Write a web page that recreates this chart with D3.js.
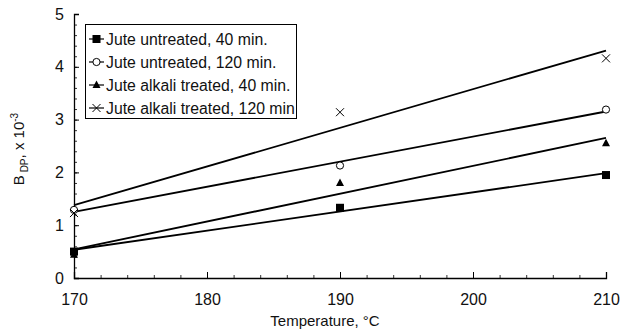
<!DOCTYPE html>
<html>
<head>
<meta charset="utf-8">
<script src="https://cdn.jsdelivr.net/npm/d3@7"></script>
<style>
  body { margin: 0; background: #fff; }
  text { font-family: "Liberation Sans", Arial, sans-serif; fill: #111; }
</style>
</head>
<body>
<svg id="plot" width="622" height="330"></svg>
<script>
// data
const temps = [170, 190, 210];
const untreated40 = [0.50, 1.33, 1.95];
const untreated120 = [1.29, 2.13, 3.19];
const alkali40 = [0.44, 1.80, 2.55];
const alkali120 = [1.23, 3.14, 4.16];
const seriesNames = ['Jute untreated, 40 min.', 'Jute untreated, 120 min.', 'Jute alkali treated, 40 min.', 'Jute alkali treated, 120 min'];
const markerTypes = ['square', 'circle', 'triangle', 'cross'];
const xTicks = [170, 180, 190, 200, 210];
const yTicks = [0, 1, 2, 3, 4, 5];

const allSeries = [untreated40, untreated120, alkali40, alkali120];

let svg = d3.select('#plot');
const x = d3.scaleLinear().domain([170, 210]).range([74, 606]);
const y = d3.scaleLinear().domain([0, 5]).range([278, 14]);

// minor ticks
const xAxis = d3.axisBottom(x).tickValues(d3.range(170, 211, 2)).tickSize(-3).tickFormat('');
svg.append('g').attr('transform', 'translate(0,278)').call(xAxis)
  .call(g => g.selectAll('.tick line').attr('stroke', '#333'));
svg.append('g').attr('transform', 'translate(0,278)')
  .call(d3.axisBottom(x).tickValues(xTicks).tickSize(-6).tickPadding(16).tickFormat(d3.format('d')))
  .call(g => g.select('.domain').attr('stroke', '#000').attr('stroke-width', 1.3))
  .call(g => g.selectAll('text').attr('font-size', 16).attr('font-family', '"Liberation Sans", Arial, sans-serif').attr('fill', '#111'));

svg.append('g').attr('transform', 'translate(74,0)')
  .call(d3.axisLeft(y).tickValues(d3.range(0, 5.01, 0.2)).tickSize(-3).tickFormat(''))
  .call(g => g.selectAll('.tick line').attr('stroke', '#333'));
svg.append('g').attr('transform', 'translate(74,0)')
  .call(d3.axisLeft(y).tickValues(yTicks).tickSize(-5).tickPadding(10).tickFormat(d3.format('d')))
  .call(g => g.select('.domain').attr('stroke', '#000').attr('stroke-width', 1.3))
  .call(g => g.selectAll('text').attr('font-size', 16).attr('font-family', '"Liberation Sans", Arial, sans-serif').attr('fill', '#111'));

// least squares trendlines
const fit = vals => {
  const mx = d3.mean(temps), my = d3.mean(vals);
  const b = d3.sum(temps, (t, i) => (t - mx) * (vals[i] - my)) / d3.sum(temps, t => (t - mx) ** 2);
  return t => my + b * (t - mx);
};
allSeries.forEach(vals => {
  const f = fit(vals);
  svg.append('line')
    .attr('x1', x(170)).attr('y1', y(f(170)))
    .attr('x2', x(210)).attr('y2', y(f(210)))
    .attr('stroke', '#000').attr('stroke-width', 1.8);
});

const drawMarker = (g, type, cx, cy) => {
  if (type === 'square') {
    g.append('rect').attr('x', cx - 4).attr('y', cy - 4).attr('width', 8).attr('height', 8).attr('fill', '#000');
  } else if (type === 'circle') {
    g.append('circle').attr('cx', cx).attr('cy', cy).attr('r', 3.6).attr('fill', '#fff').attr('stroke', '#000').attr('stroke-width', 1);
  } else if (type === 'triangle') {
    g.append('path').attr('d', `M${cx},${cy - 4.5}L${cx + 4},${cy + 3}L${cx - 4},${cy + 3}Z`).attr('fill', '#000');
  } else {
    g.append('path').attr('d', `M${cx - 4},${cy - 4}L${cx + 4},${cy + 4}M${cx - 4},${cy + 4}L${cx + 4},${cy - 4}`)
      .attr('stroke', '#000').attr('stroke-width', 1);
  }
};

let marks = svg.append('g');
allSeries.forEach((vals, i) => {
  vals.forEach((v, j) => drawMarker(marks, markerTypes[i], x(temps[j]), y(v)));
});

// legend
let legend = svg.append('g');
legend.append('rect').attr('x', 85.5).attr('y', 24.5).attr('width', 211).attr('height', 94)
  .attr('fill', '#fff').attr('stroke', '#000').attr('stroke-width', 1);
seriesNames.forEach((name, i) => {
  const ly = 39 + i * 23;
  legend.append('line').attr('x1', 89).attr('x2', 104).attr('y1', ly).attr('y2', ly).attr('stroke', '#000').attr('stroke-width', 1.2);
  drawMarker(legend, markerTypes[i], 96.5, ly);
  legend.append('text').attr('x', 106).attr('y', ly + 5.5).attr('font-size', 15.8).text(name);
});

// axis titles
svg.append('text').attr('x', 325).attr('y', 326).attr('text-anchor', 'middle').attr('font-size', 15).text('Temperature, °C');
const yt = svg.append('text').attr('transform', 'translate(24,149) rotate(-90)').attr('text-anchor', 'middle').attr('font-size', 15);
yt.append('tspan').text('B');
yt.append('tspan').attr('font-size', 10).attr('dy', 4).text(' DP');
yt.append('tspan').attr('dy', -4).text(', x 10');
yt.append('tspan').attr('font-size', 10).attr('dy', -6).text('-3');
</script>
</body>
</html>
